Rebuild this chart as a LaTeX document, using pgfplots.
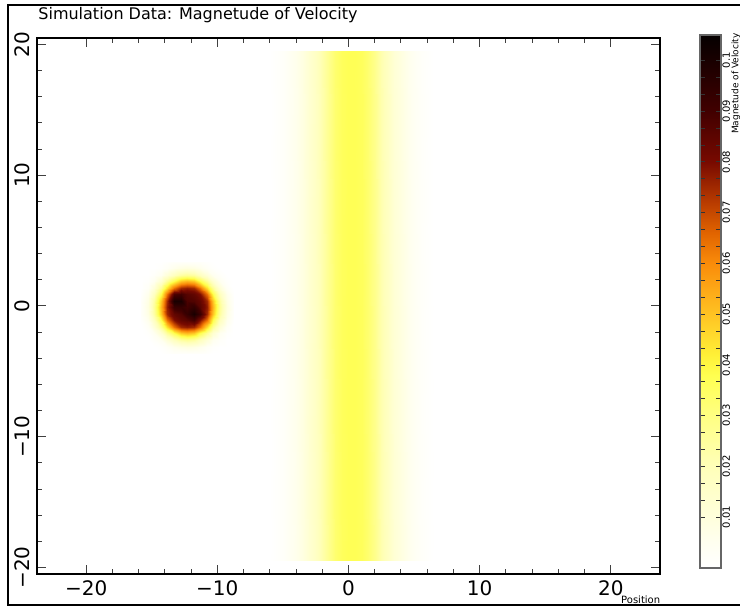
\documentclass[border=0pt]{standalone}
\usepackage{fontspec}
\setmainfont{DejaVu Sans}
\usepackage{pgfplots}
\pgfplotsset{compat=1.18}
\begin{document}
\begin{tikzpicture}
\useasboundingbox (0,0) rectangle (370pt,304pt);
\fill[white] (0,0) rectangle (370pt,304pt);
\draw[line width=0.7pt] (371pt,301.5pt) -- (4pt,301.5pt) -- (4pt,1.5pt) -- (371pt,1.5pt);
\node[anchor=base west, font=\fontsize{8}{9}\selectfont, inner sep=0pt] at (19pt,294pt) {Simulation Data: Magnetude of Velocity};
\begin{axis}[
  at={(18.5pt,17pt)}, anchor=south west,
  scale only axis, width=311.5pt, height=268pt,
  xmin=-23.75, xmax=23.75, ymin=-20.5, ymax=20.5,
  enlargelimits=false,
  axis on top,
  colormap={velo}{
    rgb255(0)=(255,255,255)
    rgb255(5)=(255,255,240)
    rgb255(10)=(255,255,220)
    rgb255(20)=(255,255,185)
    rgb255(30)=(255,255,130)
    rgb255(38)=(255,255,80)
    rgb255(42)=(255,240,55)
    rgb255(50)=(255,195,35)
    rgb255(60)=(250,140,10)
    rgb255(66)=(225,100,0)
    rgb255(72)=(185,60,0)
    rgb255(80)=(120,10,0)
    rgb255(90)=(65,0,0)
    rgb255(100)=(25,0,0)
    rgb255(105)=(5,0,0)
  },
  point meta min=0, point meta max=0.105,
  xtick={-20,-10,0,10,20}, xticklabels={−20,−10,0,10,20},
  ytick={-20,-10,0,10,20}, yticklabels={−20,−10,0,10,20},
  minor x tick num=4, minor y tick num=4,
  major tick length=4.5pt, minor tick length=2.5pt,
  tick style={black!75, line width=0.5pt},
  axis line style={black, line width=0.6pt},
  tick label style={font=\fontsize{10}{12}\selectfont},
  yticklabel style={rotate=90, anchor=south},
  xlabel={Position},
  xlabel style={at={(axis description cs:0.969,0)}, anchor=north, yshift=-11pt, font=\fontsize{5}{6}\selectfont, inner sep=0pt},
  colorbar,
  colorbar style={
    at={(parent axis.north east)}, anchor=north west,
    xshift=11.5pt, yshift=1.5pt,
    scale only axis, width=10.5pt, height=266.5pt,
    ytick={0.01,0.02,0.03,0.04,0.05,0.06,0.07,0.08,0.09,0.1},
    yticklabels={0.01,0.02,0.03,0.04,0.05,0.06,0.07,0.08,0.09,0.1},
    minor y tick num=2,
    major tick length=2.5pt, minor tick length=2.5pt,
    tick align=inside,
    yticklabel pos=right,
    ytick pos=both,
    tick style={black!80, line width=0.4pt},
    axis line style={black!60, line width=0.6pt},
    yticklabel style={font=\fontsize{5}{6}\selectfont, rotate=90, anchor=north, inner sep=0.5pt},
  },
]
% vertical band
\addplot[surf, shader=interp, mesh/cols=26, point meta=explicit] coordinates {
(-6,-19.5)[0] (-5.5,-19.5)[0.001] (-5,-19.5)[0.002] (-4.5,-19.5)[0.004] (-4,-19.5)[0.006] (-3.5,-19.5)[0.009] (-3,-19.5)[0.013] (-2.5,-19.5)[0.017] (-2,-19.5)[0.022] (-1.5,-19.5)[0.028] (-1,-19.5)[0.033] (-0.5,-19.5)[0.036] (0,-19.5)[0.037] (0.5,-19.5)[0.037] (1,-19.5)[0.036] (1.5,-19.5)[0.033] (2,-19.5)[0.028] (2.5,-19.5)[0.022] (3,-19.5)[0.017] (3.5,-19.5)[0.012] (4,-19.5)[0.009] (4.5,-19.5)[0.006] (5,-19.5)[0.004] (5.5,-19.5)[0.002] (6,-19.5)[0.001] (6.5,-19.5)[0]
(-6,19.5)[0] (-5.5,19.5)[0.001] (-5,19.5)[0.002] (-4.5,19.5)[0.004] (-4,19.5)[0.006] (-3.5,19.5)[0.009] (-3,19.5)[0.013] (-2.5,19.5)[0.017] (-2,19.5)[0.022] (-1.5,19.5)[0.028] (-1,19.5)[0.033] (-0.5,19.5)[0.036] (0,19.5)[0.037] (0.5,19.5)[0.037] (1,19.5)[0.036] (1.5,19.5)[0.033] (2,19.5)[0.028] (2.5,19.5)[0.022] (3,19.5)[0.017] (3.5,19.5)[0.012] (4,19.5)[0.009] (4.5,19.5)[0.006] (5,19.5)[0.004] (5.5,19.5)[0.002] (6,19.5)[0.001] (6.5,19.5)[0]
};
% blob
\addplot[surf, shader=interp, mesh/cols=15, point meta=explicit] coordinates {
(-15.8,-3.6)[0] (-15.3,-3.6)[0] (-14.8,-3.6)[0] (-14.3,-3.6)[0] (-13.8,-3.6)[0.001] (-13.3,-3.6)[0.002] (-12.8,-3.6)[0.002] (-12.3,-3.6)[0.002] (-11.8,-3.6)[0.002] (-11.3,-3.6)[0.002] (-10.8,-3.6)[0.001] (-10.3,-3.6)[0] (-9.8,-3.6)[0] (-9.3,-3.6)[0] (-8.8,-3.6)[0]
(-15.8,-3.1)[0] (-15.3,-3.1)[0] (-14.8,-3.1)[0] (-14.3,-3.1)[0.001] (-13.8,-3.1)[0.003] (-13.3,-3.1)[0.006] (-12.8,-3.1)[0.008] (-12.3,-3.1)[0.009] (-11.8,-3.1)[0.008] (-11.3,-3.1)[0.006] (-10.8,-3.1)[0.003] (-10.3,-3.1)[0.001] (-9.8,-3.1)[0] (-9.3,-3.1)[0] (-8.8,-3.1)[0]
(-15.8,-2.6)[0] (-15.3,-2.6)[0] (-14.8,-2.6)[0.002] (-14.3,-2.6)[0.005] (-13.8,-2.6)[0.011] (-13.3,-2.6)[0.018] (-12.8,-2.6)[0.024] (-12.3,-2.6)[0.026] (-11.8,-2.6)[0.024] (-11.3,-2.6)[0.018] (-10.8,-2.6)[0.011] (-10.3,-2.6)[0.005] (-9.8,-2.6)[0.002] (-9.3,-2.6)[0] (-8.8,-2.6)[0]
(-15.8,-2.1)[0] (-15.3,-2.1)[0.001] (-14.8,-2.1)[0.005] (-14.3,-2.1)[0.013] (-13.8,-2.1)[0.026] (-13.3,-2.1)[0.038] (-12.8,-2.1)[0.049] (-12.3,-2.1)[0.052] (-11.8,-2.1)[0.049] (-11.3,-2.1)[0.038] (-10.8,-2.1)[0.026] (-10.3,-2.1)[0.013] (-9.8,-2.1)[0.005] (-9.3,-2.1)[0.001] (-8.8,-2.1)[0]
(-15.8,-1.6)[0] (-15.3,-1.6)[0.003] (-14.8,-1.6)[0.011] (-14.3,-1.6)[0.026] (-13.8,-1.6)[0.045] (-13.3,-1.6)[0.064] (-12.8,-1.6)[0.075] (-12.3,-1.6)[0.077] (-11.8,-1.6)[0.075] (-11.3,-1.6)[0.064] (-10.8,-1.6)[0.045] (-10.3,-1.6)[0.026] (-9.8,-1.6)[0.011] (-9.3,-1.6)[0.003] (-8.8,-1.6)[0]
(-15.8,-1.1)[0.001] (-15.3,-1.1)[0.006] (-14.8,-1.1)[0.018] (-14.3,-1.1)[0.038] (-13.8,-1.1)[0.064] (-13.3,-1.1)[0.079] (-12.8,-1.1)[0.084] (-12.3,-1.1)[0.086] (-11.8,-1.1)[0.09] (-11.3,-1.1)[0.079] (-10.8,-1.1)[0.064] (-10.3,-1.1)[0.038] (-9.8,-1.1)[0.018] (-9.3,-1.1)[0.006] (-8.8,-1.1)[0.001]
(-15.8,-0.6)[0.002] (-15.3,-0.6)[0.008] (-14.8,-0.6)[0.024] (-14.3,-0.6)[0.049] (-13.8,-0.6)[0.075] (-13.3,-0.6)[0.084] (-12.8,-0.6)[0.087] (-12.3,-0.6)[0.093] (-11.8,-0.6)[0.1] (-11.3,-0.6)[0.092] (-10.8,-0.6)[0.075] (-10.3,-0.6)[0.049] (-9.8,-0.6)[0.024] (-9.3,-0.6)[0.008] (-8.8,-0.6)[0.002]
(-15.8,-0.1)[0.002] (-15.3,-0.1)[0.009] (-14.8,-0.1)[0.026] (-14.3,-0.1)[0.052] (-13.8,-0.1)[0.077] (-13.3,-0.1)[0.092] (-12.8,-0.1)[0.093] (-12.3,-0.1)[0.09] (-11.8,-0.1)[0.094] (-11.3,-0.1)[0.086] (-10.8,-0.1)[0.077] (-10.3,-0.1)[0.052] (-9.8,-0.1)[0.026] (-9.3,-0.1)[0.009] (-8.8,-0.1)[0.002]
(-15.8,0.4)[0.002] (-15.3,0.4)[0.008] (-14.8,0.4)[0.024] (-14.3,0.4)[0.049] (-13.8,0.4)[0.075] (-13.3,0.4)[0.1] (-12.8,0.4)[0.1] (-12.3,0.4)[0.088] (-11.8,0.4)[0.087] (-11.3,0.4)[0.084] (-10.8,0.4)[0.075] (-10.3,0.4)[0.049] (-9.8,0.4)[0.024] (-9.3,0.4)[0.008] (-8.8,0.4)[0.002]
(-15.8,0.9)[0.001] (-15.3,0.9)[0.006] (-14.8,0.9)[0.018] (-14.3,0.9)[0.038] (-13.8,0.9)[0.064] (-13.3,0.9)[0.088] (-12.8,0.9)[0.09] (-12.3,0.9)[0.086] (-11.8,0.9)[0.084] (-11.3,0.9)[0.079] (-10.8,0.9)[0.064] (-10.3,0.9)[0.038] (-9.8,0.9)[0.018] (-9.3,0.9)[0.006] (-8.8,0.9)[0.001]
(-15.8,1.4)[0] (-15.3,1.4)[0.003] (-14.8,1.4)[0.011] (-14.3,1.4)[0.026] (-13.8,1.4)[0.045] (-13.3,1.4)[0.064] (-12.8,1.4)[0.075] (-12.3,1.4)[0.077] (-11.8,1.4)[0.075] (-11.3,1.4)[0.064] (-10.8,1.4)[0.045] (-10.3,1.4)[0.026] (-9.8,1.4)[0.011] (-9.3,1.4)[0.003] (-8.8,1.4)[0]
(-15.8,1.9)[0] (-15.3,1.9)[0.001] (-14.8,1.9)[0.005] (-14.3,1.9)[0.013] (-13.8,1.9)[0.026] (-13.3,1.9)[0.038] (-12.8,1.9)[0.049] (-12.3,1.9)[0.052] (-11.8,1.9)[0.049] (-11.3,1.9)[0.038] (-10.8,1.9)[0.026] (-10.3,1.9)[0.013] (-9.8,1.9)[0.005] (-9.3,1.9)[0.001] (-8.8,1.9)[0]
(-15.8,2.4)[0] (-15.3,2.4)[0] (-14.8,2.4)[0.002] (-14.3,2.4)[0.005] (-13.8,2.4)[0.011] (-13.3,2.4)[0.018] (-12.8,2.4)[0.024] (-12.3,2.4)[0.026] (-11.8,2.4)[0.024] (-11.3,2.4)[0.018] (-10.8,2.4)[0.011] (-10.3,2.4)[0.005] (-9.8,2.4)[0.002] (-9.3,2.4)[0] (-8.8,2.4)[0]
(-15.8,2.9)[0] (-15.3,2.9)[0] (-14.8,2.9)[0] (-14.3,2.9)[0.001] (-13.8,2.9)[0.003] (-13.3,2.9)[0.006] (-12.8,2.9)[0.008] (-12.3,2.9)[0.009] (-11.8,2.9)[0.008] (-11.3,2.9)[0.006] (-10.8,2.9)[0.003] (-10.3,2.9)[0.001] (-9.8,2.9)[0] (-9.3,2.9)[0] (-8.8,2.9)[0]
(-15.8,3.4)[0] (-15.3,3.4)[0] (-14.8,3.4)[0] (-14.3,3.4)[0] (-13.8,3.4)[0.001] (-13.3,3.4)[0.002] (-12.8,3.4)[0.002] (-12.3,3.4)[0.002] (-11.8,3.4)[0.002] (-11.3,3.4)[0.002] (-10.8,3.4)[0.001] (-10.3,3.4)[0] (-9.8,3.4)[0] (-9.3,3.4)[0] (-8.8,3.4)[0]
};
\end{axis}
\node[rotate=90, anchor=east, font=\fontsize{4.5}{5}\selectfont, inner sep=0pt] at (368pt,287.5pt) {Magnetude of Velocity};
\end{tikzpicture}
\end{document}
